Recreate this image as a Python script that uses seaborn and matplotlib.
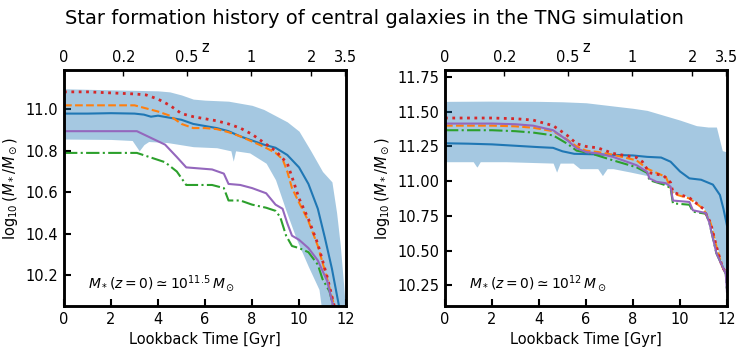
import numpy as np
import pandas as pd
import matplotlib
matplotlib.use("Agg")
import matplotlib.pyplot as plt
import seaborn as sns

# ---------------- data: left panel (M* ~ 10^11.5) ----------------
L_blue_t = [0, 1, 2, 3, 3.4, 3.7, 4, 4.5, 5, 5.5, 6, 6.5, 7, 7.5, 8, 8.5, 9, 9.5, 10, 10.4, 10.8, 11.1, 11.4, 11.7]
L_blue_v = [10.98, 10.98, 10.982, 10.98, 10.975, 10.965, 10.97, 10.96, 10.95, 10.93, 10.92, 10.91, 10.895,
            10.87, 10.85, 10.83, 10.815, 10.78, 10.72, 10.64, 10.52, 10.38, 10.23, 10.05]

L_orange_t = [0, 1, 2, 3, 3.5, 4, 4.5, 5, 5.5, 6, 6.5, 7, 7.5, 8, 8.5, 9, 9.3, 9.5, 9.7, 10, 10.4, 10.8, 11.2, 11.5]
L_orange_v = [11.02, 11.02, 11.02, 11.02, 11.005, 10.99, 10.97, 10.93, 10.91, 10.91, 10.905, 10.89, 10.87,
              10.845, 10.82, 10.79, 10.76, 10.70, 10.62, 10.55, 10.46, 10.34, 10.18, 10.05]

L_green_t = [0, 1, 2, 3, 3.1, 4.3, 4.8, 5.2, 6.3, 6.8, 7.0, 7.5, 8.0, 8.6, 9.0, 9.2, 9.45, 9.7, 10.0, 10.4,
             10.8, 11.0, 11.3, 11.45]
L_green_v = [10.79, 10.79, 10.79, 10.79, 10.79, 10.745, 10.70, 10.635, 10.635, 10.62, 10.56, 10.56, 10.54,
             10.525, 10.51, 10.48, 10.39, 10.34, 10.33, 10.31, 10.25, 10.18, 10.12, 10.05]

L_red_t = [0, 1, 2, 3, 3.5, 4, 4.5, 5, 5.5, 6, 6.5, 7, 7.5, 8, 8.5, 9, 9.5, 9.8, 10, 10.4, 10.8, 11.2, 11.5]
L_red_v = [11.085, 11.085, 11.08, 11.075, 11.07, 11.05, 11.02, 10.98, 10.965, 10.955, 10.945, 10.93, 10.91,
           10.88, 10.84, 10.80, 10.74, 10.64, 10.57, 10.47, 10.35, 10.19, 10.05]

L_purple_t = [0, 1, 2, 3, 3.1, 4.3, 4.8, 5.2, 6.3, 6.8, 7.0, 7.5, 8.0, 8.6, 9.0, 9.3, 9.5, 9.7, 10.0, 10.4,
              10.8, 11.2, 11.45]
L_purple_v = [10.895, 10.895, 10.895, 10.895, 10.895, 10.83, 10.77, 10.72, 10.71, 10.69, 10.64, 10.635,
              10.62, 10.595, 10.54, 10.52, 10.45, 10.39, 10.37, 10.33, 10.27, 10.17, 10.05]

L_band_hi_t = [0, 2, 4, 4.5, 5, 5.5, 6, 7, 8, 8.5, 9, 9.5, 10, 10.5, 11, 11.4, 11.6, 11.75, 11.9, 12]
L_band_hi_v = [11.10, 11.095, 11.09, 11.085, 11.07, 11.05, 11.045, 11.04, 11.02, 11.0, 10.97, 10.94, 10.895,
               10.80, 10.70, 10.65, 10.50, 10.35, 10.15, 10.0]
L_band_lo_t = [0, 2, 2.9, 3.2, 3.4, 3.6, 4.4, 5.5, 6.5, 7.1, 7.2, 7.3, 7.9, 8.6, 9.0, 9.45, 9.9, 10.4, 10.85, 11.0, 12]
L_band_lo_v = [10.857, 10.855, 10.85, 10.80, 10.83, 10.845, 10.84, 10.82, 10.815, 10.80, 10.75, 10.80, 10.79,
               10.74, 10.66, 10.51, 10.37, 10.24, 10.13, 10.0, 10.0]

# ---------------- data: right panel (M* ~ 10^12) ----------------
R_blue_t = [0, 1, 2, 3, 4, 4.6, 5.0, 5.5, 6, 7, 8, 8.6, 9.2, 9.6, 10.0, 10.4, 10.9, 11.4, 11.7, 11.85, 12]
R_blue_v = [11.273, 11.27, 11.265, 11.255, 11.245, 11.24, 11.215, 11.197, 11.195, 11.19, 11.185, 11.175,
            11.17, 11.14, 11.07, 11.02, 11.01, 10.975, 10.9, 10.8, 10.68]

R_orange_t = [0, 1, 2, 3, 3.75, 4.6, 5.2, 5.6, 6.0, 6.5, 7.15, 8.15, 8.6, 9.4, 9.7, 10.4, 11.0, 11.3, 11.55, 11.8, 12]
R_orange_v = [11.40, 11.40, 11.40, 11.395, 11.385, 11.36, 11.30, 11.25, 11.22, 11.21, 11.19, 11.15, 11.09,
              11.03, 10.91, 10.875, 10.80, 10.70, 10.53, 10.38, 10.33]

R_green_t = [0, 1, 2, 3, 3.75, 4.6, 5.2, 5.6, 6.2, 7.15, 8.15, 8.6, 8.7, 9.4, 9.6, 9.7, 10.4, 10.55, 11.1,
             11.25, 11.55, 11.85, 11.95, 12]
R_green_v = [11.367, 11.367, 11.367, 11.36, 11.35, 11.33, 11.27, 11.22, 11.2, 11.15, 11.10, 11.06, 11.007,
             10.97, 10.95, 10.84, 10.83, 10.78, 10.765, 10.70, 10.48, 10.37, 10.33, 10.2]

R_red_t = [0, 1, 2, 3, 3.75, 4.6, 5.2, 5.6, 6.0, 6.5, 7.15, 8.15, 8.4, 8.7, 9.3, 9.6, 9.7, 10.4, 11.0, 11.3,
           11.55, 11.8, 12]
R_red_v = [11.455, 11.455, 11.455, 11.45, 11.44, 11.40, 11.33, 11.27, 11.25, 11.24, 11.2, 11.17, 11.14,
           11.06, 11.04, 10.99, 10.92, 10.88, 10.80, 10.70, 10.53, 10.38, 10.33]

R_purple_t = [0, 1, 2, 3, 3.75, 4.6, 5.2, 5.6, 6.0, 6.5, 7.15, 8.15, 8.6, 8.7, 9.0, 9.4, 9.6, 9.7, 10.4,
              10.55, 11.1, 11.25, 11.55, 11.85, 11.95, 12]
R_purple_v = [11.415, 11.415, 11.415, 11.41, 11.40, 11.367, 11.295, 11.237, 11.21, 11.20, 11.175, 11.115,
              11.067, 11.02, 10.995, 10.985, 10.96, 10.86, 10.85, 10.79, 10.77, 10.70, 10.48, 10.37, 10.33, 10.20]

R_band_hi_t = [0, 2, 4, 5, 6, 7, 8, 8.6, 9.3, 10, 10.7, 11.2, 11.55, 11.8, 12]
R_band_hi_v = [11.575, 11.577, 11.575, 11.572, 11.565, 11.545, 11.525, 11.51, 11.475, 11.44, 11.40, 11.39,
               11.39, 11.22, 11.21]
R_band_lo_t = [0, 1.2, 1.36, 1.5, 2.6, 4.6, 4.75, 4.9, 5.45, 5.74, 6.5, 6.7, 6.9, 7.15, 7.9, 8.6, 9.0, 9.6,
               9.7, 10.4, 11.0, 11.3, 11.55, 11.8, 12]
R_band_lo_v = [11.14, 11.14, 11.10, 11.14, 11.14, 11.13, 11.065, 11.13, 11.13, 11.09, 11.09, 11.04, 11.09,
               11.09, 11.065, 11.04, 11.0, 10.96, 10.92, 10.885, 10.81, 10.71, 10.54, 10.39, 10.34]

# top axis: redshift ticks and their lookback times
z_labels = ["0", "0.2", "0.5", "1", "2", "3.5"]
z_lookback = [0, 2.53, 5.22, 7.97, 10.53, 11.97]

panels = [
    dict(blue=(L_blue_t, L_blue_v), orange=(L_orange_t, L_orange_v), green=(L_green_t, L_green_v),
         red=(L_red_t, L_red_v), purple=(L_purple_t, L_purple_v),
         hi=(L_band_hi_t, L_band_hi_v), lo=(L_band_lo_t, L_band_lo_v),
         ylim=(10.05, 11.19), label=r"$M_*(z=0)\simeq10^{11.5}\,M_\odot$"),
    dict(blue=(R_blue_t, R_blue_v), orange=(R_orange_t, R_orange_v), green=(R_green_t, R_green_v),
         red=(R_red_t, R_red_v), purple=(R_purple_t, R_purple_v),
         hi=(R_band_hi_t, R_band_hi_v), lo=(R_band_lo_t, R_band_lo_v),
         ylim=(10.1, 11.8), label=r"$M_*(z=0)\simeq10^{12}\,M_\odot$"),
]

sns.set_style("white")
plt.rcParams.update({
    'font.family': ['DejaVu Sans'],
    'mathtext.fontset': 'dejavusans',
    'text.color': 'black',
    'axes.labelcolor': 'black',
    'axes.edgecolor': 'black',
    'xtick.color': 'black',
    'ytick.color': 'black',
})

fig = plt.figure(figsize=(7.48, 3.52), dpi=100)
lefts = [0.0856, 0.5949]
width = 0.377
bottom, height = 0.1307, 0.670

pal = sns.color_palette("tab10")
styles = [("blue", pal[0], "-"), ("orange", pal[1], "--"), ("green", pal[2], "-."),
          ("red", pal[3], ":"), ("purple", pal[4], "-")]

for i, p in enumerate(panels):
    ax = fig.add_axes([lefts[i], bottom, width, height])
    grid = np.linspace(0, 12, 481)
    hi = np.interp(grid, *p["hi"])
    lo = np.interp(grid, *p["lo"])
    ax.fill_between(grid, lo, hi, color=pal[0], alpha=0.4, linewidth=0)
    for name, col, ls in styles:
        t, v = p[name]
        df = pd.DataFrame({"t": t, "v": v})
        sns.lineplot(data=df, x="t", y="v", ax=ax, color=col, linestyle=ls,
                     linewidth=2.0 if name == "red" else 1.5, sort=False)
    ax.set_xlim(0, 12)
    ax.set_ylim(*p["ylim"])
    ax.set_xticks([0, 2, 4, 6, 8, 10, 12])
    ax.set_xlabel("Lookback Time [Gyr]", fontsize=10.5)
    ax.set_ylabel(r"$\log_{10}(M_*/M_\odot)$", fontsize=10.5)
    ax.tick_params(axis="both", direction="in", length=5, width=1.5, labelsize=10.5,
                   bottom=True, left=True, top=False, right=False, pad=4)
    for s in ax.spines.values():
        s.set_linewidth(1.8)
        s.set_color("black")
    ax.text(0.085, 0.075, p["label"], transform=ax.transAxes, fontsize=10)

    top = ax.twiny()
    top.set_xlim(0, 12)
    top.set_xticks(z_lookback)
    top.set_xticklabels(z_labels)
    top.set_xlabel("z", fontsize=10.5, labelpad=-2)
    top.tick_params(axis="x", direction="in", length=4, width=1, labelsize=10.5, pad=4)
    for s in top.spines.values():
        s.set_linewidth(1.8)
        s.set_color("black")

fig.suptitle("Star formation history of central galaxies in the TNG simulation", fontsize=14, y=0.975)
fig.savefig("out.png", dpi=100)
